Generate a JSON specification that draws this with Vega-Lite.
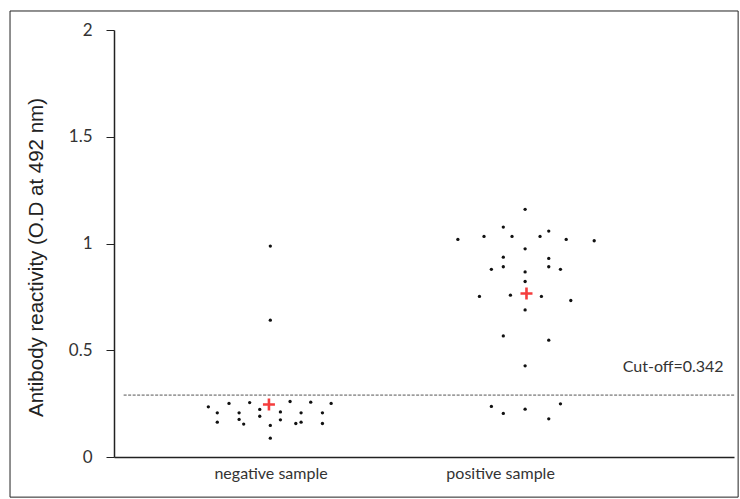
{
  "$schema": "https://vega.github.io/schema/vega-lite/v6.json",
  "width": 620,
  "height": 427,
  "autosize": "none",
  "padding": {"left": 114, "top": 30, "right": 6, "bottom": 42},
  "background": "white",
  "config": {"view": {"stroke": null}},
  "datasets": {
    "points": [
      {"sample": "negative sample", "pos": 0.729, "od": 0.235},
      {"sample": "negative sample", "pos": 0.768, "od": 0.207},
      {"sample": "negative sample", "pos": 0.768, "od": 0.163},
      {"sample": "negative sample", "pos": 0.819, "od": 0.251},
      {"sample": "negative sample", "pos": 0.863, "od": 0.207},
      {"sample": "negative sample", "pos": 0.863, "od": 0.176},
      {"sample": "negative sample", "pos": 0.883, "od": 0.154},
      {"sample": "negative sample", "pos": 0.909, "od": 0.255},
      {"sample": "negative sample", "pos": 0.953, "od": 0.223},
      {"sample": "negative sample", "pos": 0.953, "od": 0.191},
      {"sample": "negative sample", "pos": 0.999, "od": 0.148},
      {"sample": "negative sample", "pos": 0.999, "od": 0.088},
      {"sample": "negative sample", "pos": 1.043, "od": 0.211},
      {"sample": "negative sample", "pos": 1.043, "od": 0.174},
      {"sample": "negative sample", "pos": 1.085, "od": 0.260},
      {"sample": "negative sample", "pos": 1.110, "od": 0.157},
      {"sample": "negative sample", "pos": 1.133, "od": 0.207},
      {"sample": "negative sample", "pos": 1.133, "od": 0.163},
      {"sample": "negative sample", "pos": 1.175, "od": 0.257},
      {"sample": "negative sample", "pos": 1.226, "od": 0.207},
      {"sample": "negative sample", "pos": 1.226, "od": 0.157},
      {"sample": "negative sample", "pos": 1.264, "od": 0.251},
      {"sample": "negative sample", "pos": 0.999, "od": 0.988},
      {"sample": "negative sample", "pos": 0.999, "od": 0.641},
      {"sample": "positive sample", "pos": 2.109, "od": 1.160},
      {"sample": "positive sample", "pos": 2.014, "od": 1.077},
      {"sample": "positive sample", "pos": 1.816, "od": 1.019},
      {"sample": "positive sample", "pos": 1.930, "od": 1.033},
      {"sample": "positive sample", "pos": 2.052, "od": 1.033},
      {"sample": "positive sample", "pos": 2.174, "od": 1.033},
      {"sample": "positive sample", "pos": 2.212, "od": 1.058},
      {"sample": "positive sample", "pos": 2.288, "od": 1.019},
      {"sample": "positive sample", "pos": 2.410, "od": 1.013},
      {"sample": "positive sample", "pos": 2.109, "od": 0.975},
      {"sample": "positive sample", "pos": 2.014, "od": 0.936},
      {"sample": "positive sample", "pos": 2.014, "od": 0.891},
      {"sample": "positive sample", "pos": 2.212, "od": 0.930},
      {"sample": "positive sample", "pos": 2.212, "od": 0.891},
      {"sample": "positive sample", "pos": 1.962, "od": 0.879},
      {"sample": "positive sample", "pos": 2.263, "od": 0.879},
      {"sample": "positive sample", "pos": 2.109, "od": 0.867},
      {"sample": "positive sample", "pos": 2.109, "od": 0.822},
      {"sample": "positive sample", "pos": 1.910, "od": 0.752},
      {"sample": "positive sample", "pos": 2.045, "od": 0.758},
      {"sample": "positive sample", "pos": 2.180, "od": 0.752},
      {"sample": "positive sample", "pos": 2.308, "od": 0.733},
      {"sample": "positive sample", "pos": 2.109, "od": 0.689},
      {"sample": "positive sample", "pos": 2.014, "od": 0.567},
      {"sample": "positive sample", "pos": 2.212, "od": 0.547},
      {"sample": "positive sample", "pos": 2.109, "od": 0.427},
      {"sample": "positive sample", "pos": 1.962, "od": 0.237},
      {"sample": "positive sample", "pos": 2.014, "od": 0.204},
      {"sample": "positive sample", "pos": 2.109, "od": 0.224},
      {"sample": "positive sample", "pos": 2.263, "od": 0.249},
      {"sample": "positive sample", "pos": 2.212, "od": 0.179}
    ],
    "means": [
      {"sample": "negative sample", "pos": 0.993, "od": 0.246},
      {"sample": "positive sample", "pos": 2.115, "od": 0.766}
    ],
    "cutoff": [
      {"label": "Cut-off=0.342", "od": 0.29, "start": 0.36, "end": 3.02, "labelPos": 2.754, "labelOd": 0.421}
    ],
    "frame": [
      {"x1": -0.135, "x2": 3.037, "y1": -0.188, "y2": 2.089}
    ]
  },
  "layer": [
    {
      "data": {"name": "points"},
      "mark": {"type": "point", "shape": "circle", "filled": true, "size": 11, "color": "#111111", "opacity": 1},
      "encoding": {
        "x": {
          "field": "pos", "type": "quantitative",
          "scale": {"domain": [0.318, 3.019], "nice": false, "zero": false},
          "axis": {
            "title": null, "values": [1, 2], "ticks": false, "grid": false,
            "labelExpr": "datum.value == 1 ? 'negative sample' : 'positive sample'",
            "labelFont": "Lato", "labelFontSize": 16, "labelColor": "#333333", "labelPadding": 8,
            "domainColor": "#222222", "domainWidth": 1.5
          }
        },
        "y": {
          "field": "od", "type": "quantitative",
          "scale": {"domain": [0, 2], "nice": false},
          "axis": {
            "title": "Antibody reactivity (O.D at 492 nm)",
            "titleFont": "Liberation Sans", "titleFontSize": 20.5, "titleFontWeight": "normal", "titleColor": "#222222", "titlePadding": 22, "titleY": 227,
            "values": [0, 0.5, 1, 1.5, 2], "format": "~g", "grid": false,
            "labelFont": "Lato", "labelFontSize": 17, "labelColor": "#333333", "labelPadding": 14,
            "tickSize": 8, "tickColor": "#222222", "tickWidth": 1,
            "domainColor": "#222222", "domainWidth": 1.5
          }
        }
      }
    },
    {
      "data": {"name": "frame"},
      "mark": {"type": "rect", "fill": null, "stroke": "#222222", "strokeWidth": 1, "clip": false},
      "encoding": {
        "x": {"field": "x1", "type": "quantitative"},
        "x2": {"field": "x2"},
        "y": {"field": "y1", "type": "quantitative"},
        "y2": {"field": "y2"}
      }
    },
    {
      "data": {"name": "cutoff"},
      "mark": {"type": "rule", "color": "#555555", "strokeWidth": 1, "strokeDash": [3, 1.5]},
      "encoding": {
        "x": {"field": "start", "type": "quantitative"},
        "x2": {"field": "end"},
        "y": {"field": "od", "type": "quantitative"}
      }
    },
    {
      "data": {"name": "cutoff"},
      "mark": {"type": "text", "font": "Lato", "fontSize": 16, "color": "#333333"},
      "encoding": {
        "x": {"field": "labelPos", "type": "quantitative"},
        "y": {"field": "labelOd", "type": "quantitative"},
        "text": {"field": "label"}
      }
    },
    {
      "data": {"name": "means"},
      "mark": {"type": "point", "shape": "M-1,0H1M0,-1V1", "filled": false, "size": 144, "stroke": "#f53d3d", "strokeWidth": 2.6, "opacity": 1},
      "encoding": {
        "x": {"field": "pos", "type": "quantitative"},
        "y": {"field": "od", "type": "quantitative"}
      }
    }
  ]
}
